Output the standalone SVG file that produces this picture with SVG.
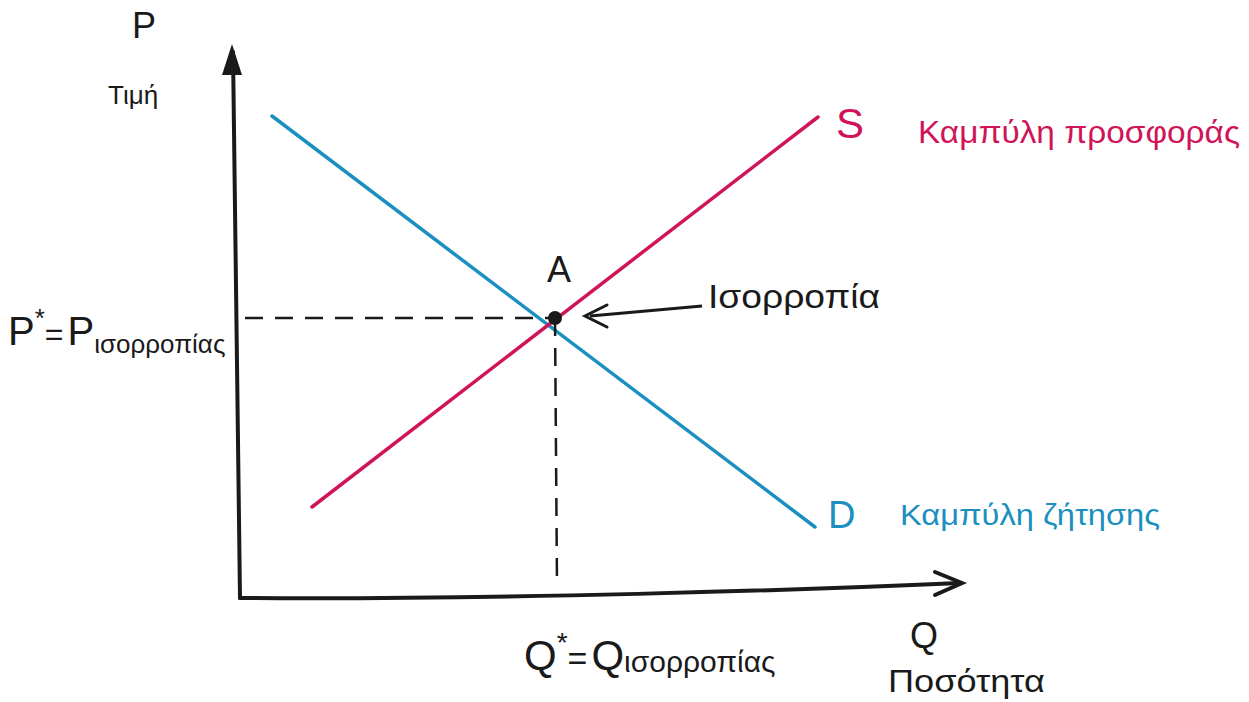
<svg xmlns="http://www.w3.org/2000/svg" width="1249" height="702" viewBox="0 0 1249 702">
<style>
.t{font-family:"Liberation Sans","DejaVu Sans",sans-serif;fill:#1a1a1a}
.ax{stroke:#1a1a1a;stroke-width:4;fill:none;stroke-linecap:round}
.dash{stroke:#1a1a1a;stroke-width:2.5;fill:none;stroke-dasharray:18 12}
.sup{stroke:#d0145a;stroke-width:3.5;fill:none;stroke-linecap:round}
.dem{stroke:#1a8fc0;stroke-width:3.5;fill:none;stroke-linecap:round}
.pink{fill:#d0145a}
.blue{fill:#1a8fc0}
</style>
<rect width="1249" height="702" fill="#ffffff"/>
<g id="connectors">
<path class="ax" d="M240,598 L233,52"/>
<path d="M222,75 L232,44 L242,75 Z" fill="#1a1a1a"/>
<path class="ax" d="M240,598 C500,600 800,590 960,583"/>
<path d="M935,572 L962,583 L935,595" class="ax" stroke-width="3"/>
<path class="dem" d="M272,116 L815,527"/>
<path class="sup" d="M312,507 L818,117"/>
<path class="dash" d="M245,318 L555,318"/>
<path class="dash" d="M555,318 L557,585"/>
<path d="M702,306 L590,316" stroke="#1a1a1a" stroke-width="3" fill="none"/>
<path d="M607,305 L585,316 L607,327" stroke="#1a1a1a" stroke-width="3" fill="none" stroke-linecap="round"/>
</g>
<g id="node-A">
<circle cx="555" cy="318" r="7" fill="#1a1a1a"/>
<text class="t" x="547" y="282" font-size="36">A</text>
<text class="t" x="708" y="308" font-size="34" textLength="172" lengthAdjust="spacingAndGlyphs">Ισορροπία</text>
</g>
<g id="node-P-axis">
<text class="t" x="132" y="38" font-size="36">P</text>
<text class="t" x="108" y="104" font-size="26">Τιμή</text>
</g>
<g id="node-Q-axis">
<text class="t" x="910" y="648" font-size="36">Q</text>
<text class="t" x="888" y="692" font-size="32" textLength="157" lengthAdjust="spacingAndGlyphs">Ποσότητα</text>
</g>
<g id="node-S">
<text class="t pink" x="836" y="138" font-size="42">S</text>
<text class="t pink" x="918" y="143" font-size="32" textLength="322" lengthAdjust="spacingAndGlyphs">Καμπύλη προσφοράς</text>
</g>
<g id="node-D">
<text class="t blue" x="828" y="528" font-size="38">D</text>
<text class="t blue" x="900" y="525" font-size="30" textLength="260" lengthAdjust="spacingAndGlyphs">Καμπύλη ζήτησης</text>
</g>
<g id="node-Pstar">
<text class="t" x="8" y="345" font-size="40">P<tspan font-size="26" dy="-18">*</tspan><tspan dy="18" font-size="32">=</tspan><tspan dx="4">P</tspan><tspan font-size="26" dy="8">ισορροπίας</tspan></text>
</g>
<g id="node-Qstar">
<text class="t" x="524" y="670" font-size="42">Q<tspan font-size="28" dy="-18">*</tspan><tspan dy="18" font-size="34">=</tspan><tspan dx="4">Q</tspan><tspan font-size="30" dy="2">ισορροπίας</tspan></text>
</g>
</svg>
